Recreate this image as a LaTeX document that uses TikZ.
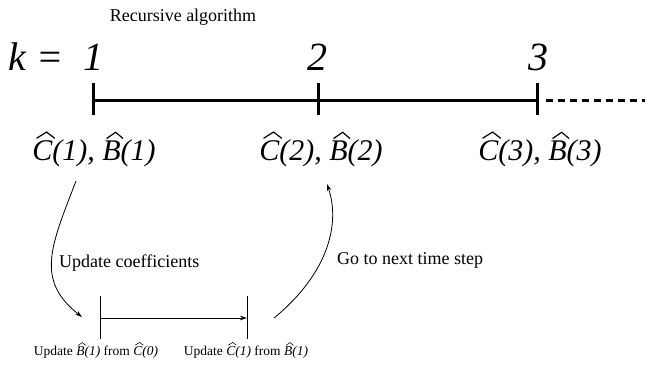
\documentclass[tikz,border=0pt]{standalone}
\usepackage{fontspec}
\setmainfont{Liberation Serif}
\usetikzlibrary{arrows.meta}
\newcommand{\wideht}[1]{\tikz[baseline=(w.base)]{\node[inner sep=0pt,outer sep=0pt,anchor=base] (w) {\itshape #1};
  \draw[line width=0.04em, line join=miter, overlay]
    ([xshift=0.14em,yshift=0.06em]w.north west) -- ([xshift=0.14em,yshift=0.27em]w.north) -- ([xshift=0.08em,yshift=0.06em]w.north east);}}
\newcommand{\hatC}{\wideht{C}}
\newcommand{\hatB}{\wideht{B}}
\tikzset{
  bigfont/.style={font=\fontsize{40}{44}\selectfont\itshape, inner sep=0pt},
  lblfont/.style={font=\fontsize{30}{34}\selectfont\itshape, inner sep=0pt, anchor=base},
  midfont/.style={font=\fontsize{18}{21}\selectfont, inner sep=0pt},
  smallfont/.style={font=\fontsize{13.5}{16}\selectfont, inner sep=0pt, anchor=base},
  thick line/.style={line width=3pt},
  thin arrow/.style={line width=0.8pt, -{Stealth[length=7pt,width=4.5pt]}},
}
\begin{document}
\begin{tikzpicture}[x=1pt,y=-1pt]
\useasboundingbox (0,0) rectangle (649,367);
\node[midfont, anchor=base] (title) at (183,21) {Recursive algorithm};
\node[bigfont, anchor=base] (k) at (36,70) {k =};
\node[bigfont, anchor=base] (n1) at (93,70) {1};
\node[bigfont, anchor=base] (n2) at (317,70) {2};
\node[bigfont, anchor=base] (n3) at (538,70) {3};
% main timeline
\coordinate (t1) at (93,100);
\coordinate (t2) at (318,100);
\coordinate (t3) at (537,100);
\coordinate (tend) at (645,100);
\draw[thick line] (t1) -- (t3);
\foreach \t in {t1,t2,t3} \draw[thick line] ([yshift=-15pt]\t) -- ([yshift=17pt]\t);
\draw[thick line, dash pattern=on 7pt off 5pt] ([xshift=9pt]t3) -- (tend);
% labels
\node[lblfont] (l1) at (94,160) {\hatC(1), \hatB(1)};
\node[lblfont] (l2) at (321,160) {\hatC(2), \hatB(2)};
\node[lblfont] (l3) at (540,160) {\hatC(3), \hatB(3)};
% lower timeline
\coordinate (u1) at (100,318);
\coordinate (u2) at (247,318);
\draw[line width=0.8pt] ([yshift=-21pt]u1) -- ([yshift=22pt]u1);
\draw[line width=0.8pt] ([yshift=-21pt]u2) -- ([yshift=22pt]u2);
\draw[thin arrow] (u1) -- (u2);
\node[smallfont] (b1) at (96,355) {Update \hatB\textit{(1)} from \hatC\textit{(0)}};
\node[smallfont] (b2) at (246,355) {Update \hatC\textit{(1)} from \hatB\textit{(1)}};
% curves
\coordinate (c1s) at (76,181);
\coordinate (c1e) at (82,317);
\draw[thin arrow] (c1s) .. controls (51,246) and (35,280) .. (c1e);
\coordinate (c2s) at (274,318);
\coordinate (c2e) at (327,184);
\draw[thin arrow] (c2s) .. controls (330,272) and (340,222) .. (c2e);
\node[midfont, anchor=base west] (upd) at (59,267) {Update coefficients};
\node[midfont, anchor=base west] (go) at (337,264) {Go to next time step};
\end{tikzpicture}
\end{document}
